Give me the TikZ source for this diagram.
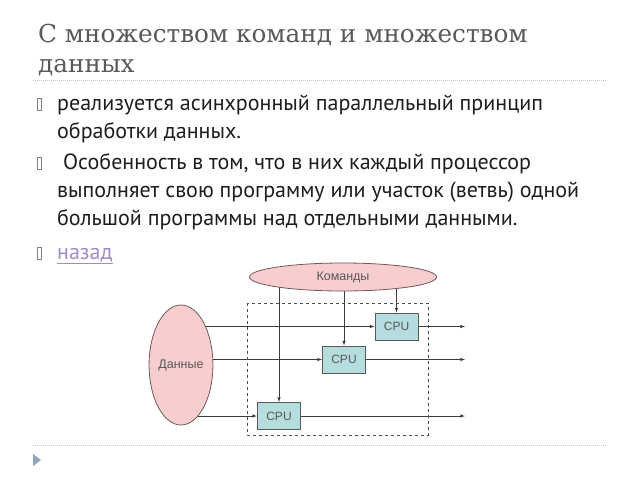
\documentclass[tikz,border=0pt]{standalone}
\usepackage{fontspec}
\setmainfont{PT Sans}
\newfontfamily\titlefont{DejaVu Serif}
\newfontfamily\labelfont{Liberation Sans}
\usetikzlibrary{backgrounds,shapes.geometric}

\definecolor{titlegray}{HTML}{595959}
\definecolor{bodyblack}{HTML}{1E1E1E}
\definecolor{rulegray}{HTML}{C4C4C4}
\definecolor{linkviolet}{HTML}{A08CC8}
\definecolor{elpink}{HTML}{F8CDCD}
\definecolor{elborder}{HTML}{6E5A5A}
\definecolor{cpucyan}{HTML}{B5DDE0}
\definecolor{flowgray}{HTML}{3C3C3C}
\definecolor{marker}{HTML}{8EA4BA}

\tikzset{
  bodytext/.style={anchor=base west,inner sep=0pt,text=bodyblack,font=\fontsize{22}{26}\selectfont},
  bulletbox/.style={draw=gray,line width=0.4pt},
  rule/.style={rulegray,line width=1pt,dash pattern=on 1pt off 1pt},
  dataell/.style={ellipse,draw=elborder,fill=elpink,line width=0.8pt,inner sep=0pt,
    text=black!65,font=\labelfont\fontsize{12.5}{14}\selectfont},
  cpubox/.style={draw=black!65,fill=cpucyan,line width=1pt,minimum width=43pt,minimum height=27pt,
    inner sep=0pt,text=black!65,font=\labelfont\fontsize{12}{14}\selectfont},
  flow/.style={flowgray,line width=0.6pt,-latex}
}

\begin{document}
\begin{tikzpicture}[x=1pt,y=-1pt]
  \useasboundingbox (0,0) rectangle (640,480);

  % title
  \node[anchor=base west,inner sep=0pt,text=titlegray,font=\titlefont\fontsize{24.7}{29}\selectfont]
    (title1) at (38,42) {С множеством команд и множеством};
  \node[anchor=base west,inner sep=0pt,text=titlegray,font=\titlefont\fontsize{24.7}{29}\selectfont]
    (title2) at (38,72) {данных};
  \draw[rule] (33,80) -- (607,80);
  \draw[rule] (33,445) -- (607,445);

  % bullets and text
  \foreach \y in {110,169,259}
    \draw[bulletbox] (37,\y-12) rectangle (41.5,\y);
  \node[bodytext] (l1) at (57,110) {реализуется асинхронный параллельный принцип};
  \node[bodytext] (l2) at (57,138) {обработки данных.};
  \node[bodytext] (l3) at (63,169) {Особенность в том, что в них каждый процессор};
  \node[bodytext] (l4) at (57,197) {выполняет свою программу или участок (ветвь) одной};
  \node[bodytext] (l5) at (57,225) {большой программы над отдельными данными.};
  \node[bodytext,text=linkviolet] (back) at (57,259) {\underline{назад}};

  % diagram
  \node[dataell,minimum width=187pt,minimum height=28pt] (kom) at (343,277) {Команды};
  \node[dataell,minimum width=53pt,minimum height=120pt] (dan) at (181,365) {Данные};
  \draw[black!70,line width=0.6pt,dashed] (247,303) rectangle (428,435);
  \node[cpubox] (cpu1) at (396.5,326.5) {CPU};
  \node[cpubox] (cpu2) at (344,359.5) {CPU};
  \node[cpubox] (cpu3) at (279,416) {CPU};
  \coordinate (outx) at (465,0);

  \begin{scope}[on background layer]
    \foreach \c in {cpu1,cpu2,cpu3} {
      \draw[flow] (kom.center -| \c.north) -- (\c.north);
      \draw[flow] (dan.center |- \c.west) -- (\c.west);
      \draw[flow] (\c.east) -- (outx |- \c.east);
    }
  \end{scope}

  % marker
  \fill[marker] (33,454) -- (41,460) -- (33,466) -- cycle;
\end{tikzpicture}
\end{document}
